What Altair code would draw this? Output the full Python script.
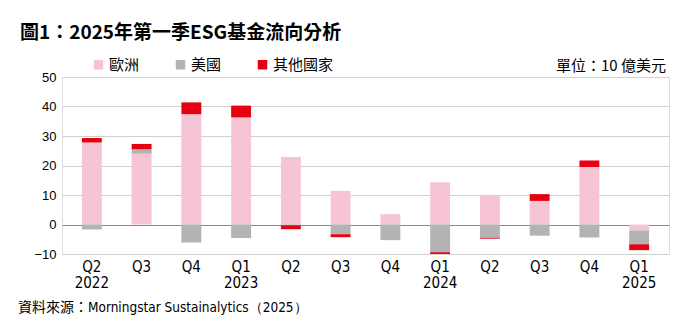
import altair as alt
import pandas as pd

quarters = ["2022Q2", "2022Q3", "2022Q4", "2023Q1", "2023Q2", "2023Q3",
            "2023Q4", "2024Q1", "2024Q2", "2024Q3", "2024Q4", "2025Q1"]
tick_labels = [["Q2", "2022"], ["Q3"], ["Q4"], ["Q1", "2023"], ["Q2"], ["Q3"],
               ["Q4"], ["Q1", "2024"], ["Q2"], ["Q3"], ["Q4"], ["Q1", "2025"]]
y_ticks = [-10, 0, 10, 20, 30, 40, 50]
series = ["歐洲", "美國", "其他國家"]
europe = [27.8, 24.0, 37.4, 36.3, 22.9, 11.4, 3.5, 14.3, 9.8, 8.0, 19.5, -2.0]
usa = [-1.7, 1.5, -6.1, -4.6, -0.3, -3.3, -5.3, -9.4, -4.5, -3.8, -4.4, -4.7]
other = [1.5, 1.8, 4.0, 4.0, -1.3, -1.0, 0.0, -0.6, -0.3, 2.3, 2.2, -2.0]
colors = ["#F6C4D5", "#B3B3B3", "#E60012"]

title_text = "圖1：2025年第一季ESG基金流向分析"
unit_text = "單位：10 億美元"
source_cjk = "資料來源："
source_latin = "Morningstar Sustainalytics（2025）"

rows = []
for i, q in enumerate(quarters):
    for k, (name, vals) in enumerate(zip(series, [europe, usa, other])):
        rows.append({"quarter": q, "series": name, "value": vals[i], "idx": k})
df = pd.DataFrame(rows)

cjk = "Noto Sans CJK TC"
narrow = "DejaVu Sans Condensed, Liberation Sans Narrow, sans-serif"

q_list = "[" + ",".join("'%s'" % q for q in quarters) + "]"
l_list = "[" + ",".join("[" + ",".join("'%s'" % s for s in lab) + "]" for lab in tick_labels) + "]"
label_expr = "%s[indexof(%s, datum.value)]" % (l_list, q_list)

bars = alt.Chart(df).mark_bar(clip=True).encode(
    x=alt.X("quarter:N", sort=quarters, title=None,
            scale=alt.Scale(paddingInner=0.6, paddingOuter=0.4),
            axis=alt.Axis(labelExpr=label_expr, labelAngle=0, ticks=False, domain=False,
                          labelFont=narrow, labelFontSize=15, labelColor="#000",
                          labelLineHeight=16, labelPadding=5)),
    y=alt.Y("value:Q", stack="zero", title=None,
            scale=alt.Scale(domain=[-10, 50], nice=False),
            axis=alt.Axis(values=y_ticks, ticks=False, domain=False, labelOverlap=False,
                          labelFont="Liberation Sans", labelFontSize=13, labelColor="#000",
                          labelPadding=6, gridWidth=1,
                          gridColor=alt.condition("datum.value === 0",
                                                  alt.value("#888888"),
                                                  alt.value("#D0D0D0")))),
    color=alt.Color("series:N", sort=series, title=None,
                    scale=alt.Scale(domain=series, range=colors),
                    legend=alt.Legend(orient="none", direction="horizontal",
                                      legendX=29, legendY=-20,
                                      symbolType="square", symbolSize=90,
                                      symbolStrokeWidth=0, labelFont=cjk,
                                      labelFontSize=15, labelColor="#000",
                                      labelOffset=3, columnPadding=33)),
    order=alt.Order("idx:Q", sort="ascending"),
)

one = pd.DataFrame({"a": [0]})
title = alt.Chart(one).mark_text(
    align="left", baseline="alphabetic", font=cjk, fontSize=19, fontWeight="bold", color="#000"
).encode(x=alt.value(-42), y=alt.value(-38), text=alt.value(title_text))
unit = alt.Chart(one).mark_text(
    align="right", baseline="middle", font=cjk, fontSize=15, color="#000"
).encode(x=alt.value(604), y=alt.value(-11), text=alt.value(unit_text))
source1 = alt.Chart(one).mark_text(
    align="left", baseline="middle", font=cjk, fontSize=14, color="#000"
).encode(x=alt.value(-44), y=alt.value(231), text=alt.value(source_cjk))
source2 = alt.Chart(one).mark_text(
    align="left", baseline="middle", font=narrow, fontSize=13.5, color="#000"
).encode(x=alt.value(26), y=alt.value(231), text=alt.value(source_latin))

chart = alt.layer(bars, title, unit, source1, source2).properties(
    width=607, height=177,
    autosize=alt.AutoSizeParams(type="none"),
    padding={"left": 62, "top": 77, "right": 13, "bottom": 75},
).configure_view(stroke="#888888", strokeWidth=1).configure(background="white")

chart.save("out.html", embed_options={"renderer": "svg", "actions": False})
